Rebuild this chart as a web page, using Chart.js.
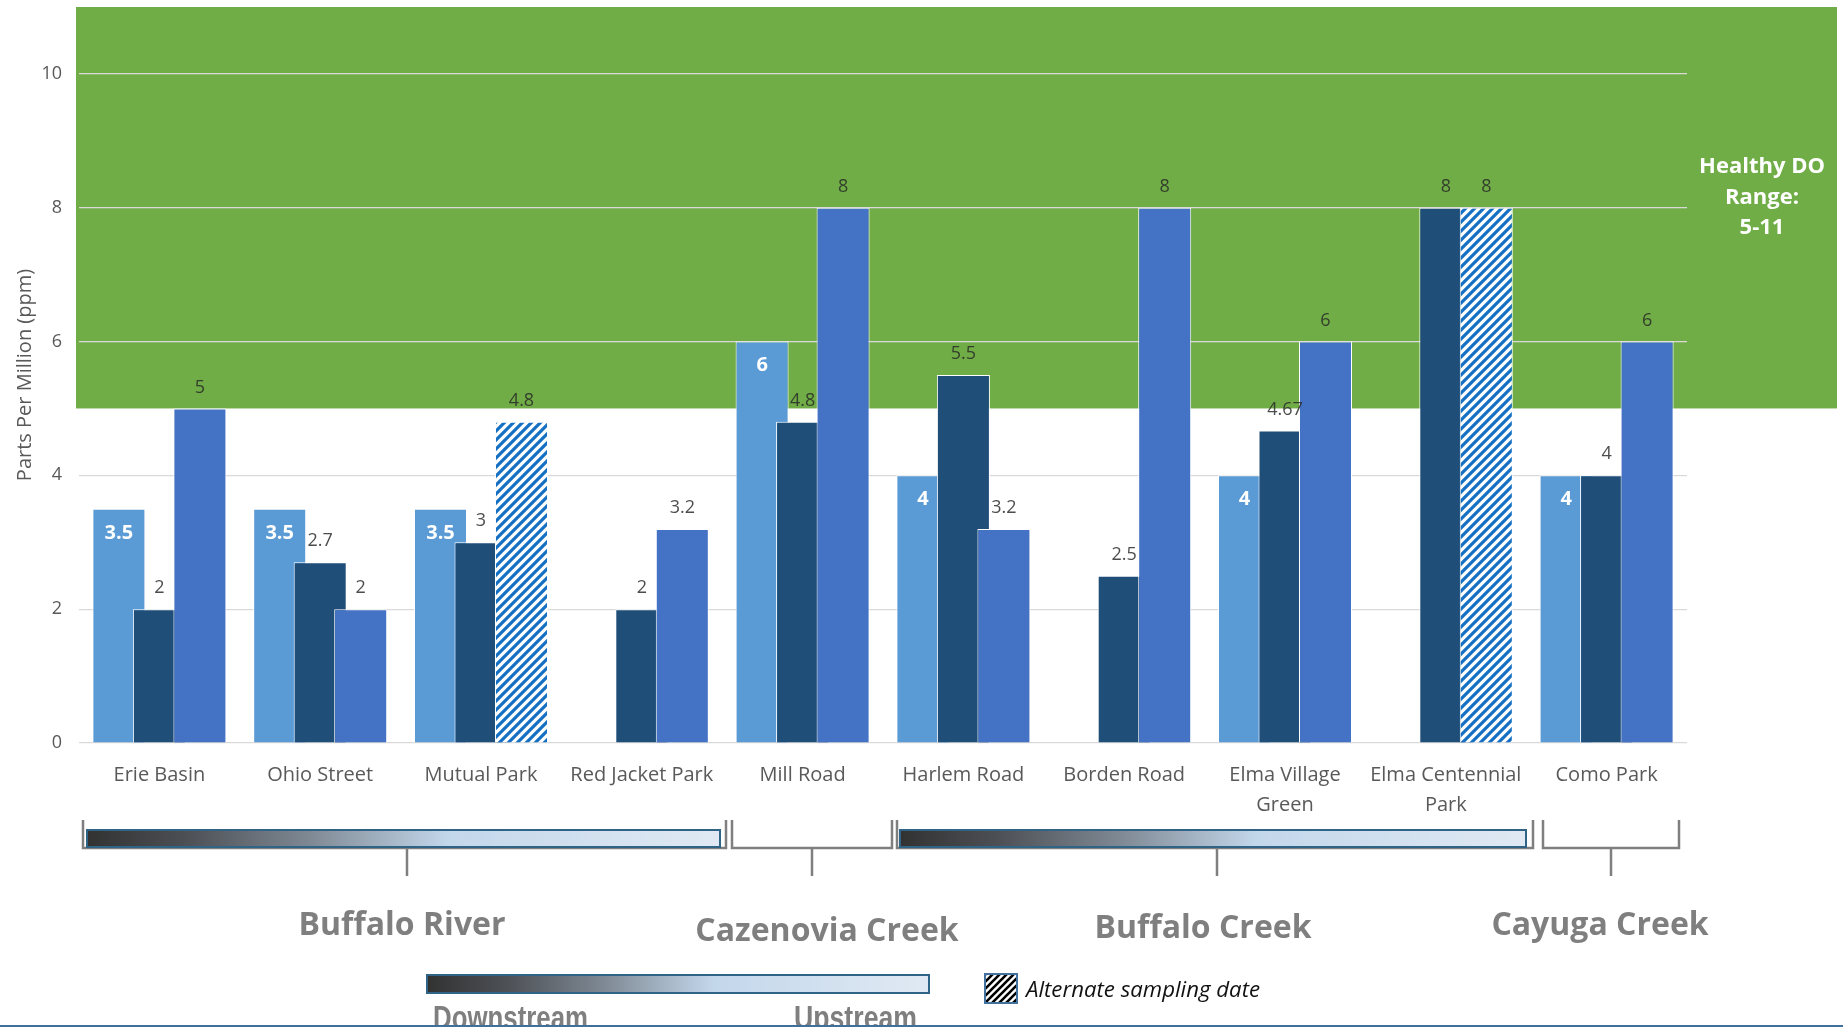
<!DOCTYPE html>
<html>
<head>
<meta charset="utf-8">
<title>Dissolved Oxygen by Site</title>
<script src="https://cdn.jsdelivr.net/npm/chart.js@4.4.1/dist/chart.umd.min.js"></script>
<style>
  html, body { margin: 0; padding: 0; background: #ffffff; }
  #wrap { width: 1843px; height: 1027px; position: relative; }
  canvas { display: block; }
</style>
</head>
<body>
<div id="wrap"><canvas id="chart" width="1843" height="1027"></canvas></div>
<script>
// ---- Data -------------------------------------------------------------
const sites = [
  'Erie Basin', 'Ohio Street', 'Mutual Park', 'Red Jacket Park', 'Mill Road',
  'Harlem Road', 'Borden Road', ['Elma Village', 'Green'], ['Elma Centennial', 'Park'], 'Como Park'
];
// Dissolved oxygen readings (ppm), three sampling rounds per site
const round1 = [3.5, 3.5, 3.5, null, 6, 4, null, 4, null, 4];
const round2 = [2, 2.7, 3, 2, 4.8, 5.5, 2.5, 4.67, 8, 4];
const round3 = [5, 2, 4.8, 3.2, 8, 3.2, 8, 6, 8, 6];
// round-3 readings taken on an alternate date
const round3Alternate = [false, false, true, false, false, false, false, false, true, false];
const healthyRange = [5, 11];
const yTickValues = [0, 2, 4, 6, 8, 10];
const waterways = ['Buffalo River', 'Cazenovia Creek', 'Buffalo Creek', 'Cayuga Creek'];

// ---- Styles -----------------------------------------------------------
const FONT = '"Open Sans", "Noto Sans", sans-serif';
const COLORS = {
  round1: '#5B9BD5', round2: '#1F4E79', round3: '#4472C4',
  hatch: '#1570C4', green: '#70AD47', grid: '#D9D9D9',
  axisText: '#595959', label: 'rgba(38,38,38,0.82)', bracket: '#7f7f7f',
  barEdge: '#2F6487', groupText: '#7f7f7f'
};

function makeHatch(color, size, lw) {
  const c = document.createElement('canvas');
  c.width = size; c.height = size;
  const g = c.getContext('2d');
  g.fillStyle = '#ffffff';
  g.fillRect(0, 0, size, size);
  g.strokeStyle = color;
  g.lineWidth = lw;
  g.beginPath();
  g.moveTo(-size, size); g.lineTo(size, -size);
  g.moveTo(0, size); g.lineTo(size, 0);
  g.moveTo(0, 2 * size); g.lineTo(2 * size, 0);
  g.stroke();
  return g.createPattern(c, 'repeat');
}
const hatchBlue = makeHatch(COLORS.hatch, 9, 3.2);
const hatchBlack = makeHatch('#000000', 7, 2.6);

function riverGradient(ctx, x1, x2) {
  const gr = ctx.createLinearGradient(x1, 0, x2, 0);
  gr.addColorStop(0, '#323232');
  gr.addColorStop(0.15, '#4b4e53');
  gr.addColorStop(0.35, '#7e8893');
  gr.addColorStop(0.57, '#c3d7eb');
  gr.addColorStop(1, '#e0e9f3');
  return gr;
}

function fitText(ctx, text, x, y, width) {
  const w = ctx.measureText(text).width;
  ctx.save();
  ctx.translate(x, y);
  ctx.scale(width / w, 1);
  ctx.textAlign = 'left';
  ctx.fillText(text, 0, 0);
  ctx.restore();
}

// Green "healthy" band behind the plot
const healthyBand = {
  id: 'healthyBand',
  beforeDraw(chart) {
    const { ctx } = chart;
    const y = chart.scales.y;
    ctx.save();
    ctx.fillStyle = '#ffffff';
    ctx.fillRect(0, 0, chart.width, chart.height);
    const top = y.getPixelForValue(healthyRange[1]);
    const bottom = y.getPixelForValue(healthyRange[0]);
    ctx.fillStyle = COLORS.green;
    ctx.fillRect(76, top, 1837 - 76, bottom - top);
    ctx.fillStyle = '#ffffff';
    ctx.font = 'bold 22px ' + FONT;
    ctx.textAlign = 'center';
    ctx.textBaseline = 'middle';
    ctx.fillText('Healthy DO', 1762, 167);
    ctx.fillText('Range:', 1762, 198);
    ctx.fillText(healthyRange[0] + '-' + healthyRange[1], 1762, 228);
    ctx.restore();
  }
};

// Later rounds are painted over earlier ones
const paintOrder = {
  id: 'paintOrder',
  beforeDatasetsDraw(chart) {
    chart.getSortedVisibleDatasetMetas().forEach(meta => chart._drawDataset(meta));
    return false;
  }
};

// Value labels, waterway brackets and the bottom key
const overlays = {
  id: 'overlays',
  afterDraw(chart) {
    const { ctx } = chart;
    ctx.save();
    // value labels
    chart.data.datasets.forEach((ds, di) => {
      const meta = chart.getDatasetMeta(di);
      meta.data.forEach((bar, i) => {
        const v = ds.data[i];
        if (v === null || v === undefined) return;
        ctx.textAlign = 'center';
        ctx.textBaseline = 'middle';
        if (di === 0) {
          ctx.fillStyle = '#ffffff';
          ctx.font = 'bold 20px ' + FONT;
          ctx.fillText(String(v), bar.x, bar.y + 24);
        } else {
          ctx.fillStyle = COLORS.label;
          ctx.font = '18px ' + FONT;
          ctx.fillText(String(v), bar.x, bar.y - 21);
        }
      });
    });

    // waterway brackets
    const brackets = [
      { x1: 83, x2: 726, tick: 407, bar: [87, 720], label: [402, 935] },
      { x1: 732, x2: 892, tick: 812, bar: null, label: [827, 941] },
      { x1: 897, x2: 1533, tick: 1217, bar: [900, 1526], label: [1203, 938] },
      { x1: 1543, x2: 1679, tick: 1611, bar: null, label: [1600, 935] }
    ];
    brackets.forEach((b, k) => {
      ctx.strokeStyle = COLORS.bracket;
      ctx.lineWidth = 2.5;
      ctx.beginPath();
      ctx.moveTo(b.x1, 820); ctx.lineTo(b.x1, 848);
      ctx.lineTo(b.x2, 848); ctx.lineTo(b.x2, 820);
      ctx.moveTo(b.tick, 848); ctx.lineTo(b.tick, 876);
      ctx.stroke();
      if (b.bar) {
        ctx.fillStyle = riverGradient(ctx, b.bar[0], b.bar[1]);
        ctx.fillRect(b.bar[0], 830, b.bar[1] - b.bar[0], 17);
        ctx.strokeStyle = COLORS.barEdge;
        ctx.lineWidth = 2;
        ctx.strokeRect(b.bar[0], 830, b.bar[1] - b.bar[0], 17);
      }
      ctx.fillStyle = COLORS.groupText;
      ctx.font = 'bold 32px ' + FONT;
      ctx.textAlign = 'center';
      ctx.textBaseline = 'alphabetic';
      ctx.fillText(waterways[k], b.label[0], b.label[1]);
    });

    // flow direction key
    ctx.fillStyle = riverGradient(ctx, 427, 929);
    ctx.fillRect(427, 975, 502, 18);
    ctx.strokeStyle = COLORS.barEdge;
    ctx.lineWidth = 2;
    ctx.strokeRect(427, 975, 502, 18);
    ctx.fillStyle = '#7f7f7f';
    ctx.font = 'bold 33px "Liberation Sans Narrow", "Liberation Sans", sans-serif';
    ctx.textBaseline = 'alphabetic';
    fitText(ctx, 'Downstream', 433, 1029, 155);
    fitText(ctx, 'Upstream', 794, 1029, 123);

    // alternate date key
    ctx.fillStyle = hatchBlack;
    ctx.fillRect(985, 974, 32, 29);
    ctx.strokeStyle = '#41719C';
    ctx.lineWidth = 2;
    ctx.strokeRect(985, 974, 32, 29);
    ctx.fillStyle = '#111111';
    ctx.font = 'italic 22px ' + FONT;
    fitText(ctx, 'Alternate sampling date', 1026, 997, 234);

    // bottom rule
    ctx.strokeStyle = '#3f6f9b';
    ctx.lineWidth = 2;
    ctx.beginPath();
    ctx.moveTo(0, 1026); ctx.lineTo(chart.width, 1026);
    ctx.stroke();
    ctx.restore();
  }
};

const chart = new Chart(document.getElementById('chart').getContext('2d'), {
  type: 'bar',
  data: {
    labels: sites,
    datasets: [
      { label: 'Round 1', data: round1, backgroundColor: COLORS.round1 },
      { label: 'Round 2', data: round2, backgroundColor: COLORS.round2 },
      { label: 'Round 3', data: round3,
        backgroundColor: round3.map((v, i) => round3Alternate[i] ? hatchBlue : COLORS.round3) }
    ]
  },
  options: {
    responsive: false,
    animation: false,
    devicePixelRatio: 1,
    layout: { padding: { left: 0, right: 156, top: 7, bottom: 0 } },
    datasets: {
      bar: {
        categoryPercentage: 0.7556,
        barPercentage: 1.309,
        borderColor: '#ffffff',
        borderWidth: 1,
        borderSkipped: 'bottom'
      }
    },
    plugins: {
      legend: { display: false },
      tooltip: { enabled: false },
      title: { display: false }
    },
    scales: {
      x: {
        grid: { display: false },
        border: { display: false },
        ticks: {
          color: COLORS.axisText,
          font: { family: FONT, size: 20, lineHeight: 1.5 },
          padding: 9,
          maxRotation: 0,
          autoSkip: false
        },
        afterFit(s) { s.height = 284; s.paddingLeft = 0; s.paddingRight = 0; }
      },
      y: {
        min: 0,
        max: healthyRange[1],
        ticks: {
          stepSize: 2,
          color: COLORS.axisText,
          font: { family: FONT, size: 18 },
          padding: 17
        },
        grid: { color: COLORS.grid, lineWidth: 1.2, drawTicks: false },
        border: { display: false },
        title: {
          display: true,
          text: 'Parts Per Million (ppm)',
          color: COLORS.axisText,
          font: { family: FONT, size: 20 },
          padding: { top: 13, bottom: 0 }
        },
        afterBuildTicks(s) { s.ticks = yTickValues.map(v => ({ value: v })); },
        afterFit(s) { s.width = 79; s.paddingTop = 0; s.paddingBottom = 0; }
      }
    }
  },
  plugins: [healthyBand, paintOrder, overlays]
});
</script>
</body>
</html>
